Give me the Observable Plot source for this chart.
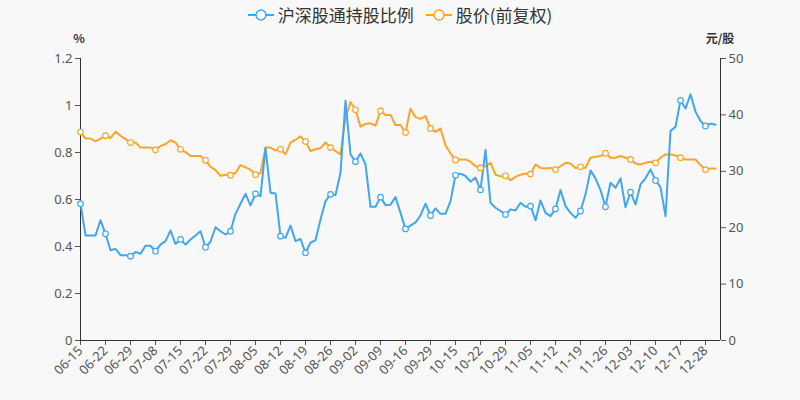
<!DOCTYPE html>
<html>
<head>
<meta charset="utf-8">
<script src="https://cdn.jsdelivr.net/npm/d3@7"></script>
<script src="https://cdn.jsdelivr.net/npm/@observablehq/plot@0.6"></script>
<style>
  html, body { margin: 0; padding: 0; background: #f8f8f8; }
  #wrap { position: relative; width: 800px; height: 400px; font-family: "Noto Sans CJK SC", "Noto Sans", sans-serif; }
  #legend { position: absolute; top: 2px; left: 0; width: 800px; display: flex; justify-content: center; align-items: center; gap: 12px; font-size: 17px; color: #333; }
  .item { display: flex; align-items: center; gap: 4px; }
  .atitle { position: absolute; top: 29px; font-size: 12px; color: #333; font-weight: bold; transform: translateX(-50%); }
</style>
</head>
<body>
<div id="wrap">
  <div id="chart"></div>
  <div id="legend"></div>
  <div class="atitle" id="tl" style="left:79px">%</div>
  <div class="atitle" id="tr" style="left:720px">元/股</div>
</div>
<script>
const seriesNames = ["沪深股通持股比例", "股价(前复权)"];
const seriesColors = ["#40a6f2", "#faa42a"];
const tickLabels = ["06-15","06-22","06-29","07-08","07-15","07-22","07-29","08-05","08-12","08-19","08-26","09-02","09-09","09-16","09-29","10-15","10-22","10-29","11-05","11-12","11-19","11-26","12-03","12-10","12-17","12-28"];
const holdRatio = [
  0.582,0.447,0.447,0.447,0.512,0.454,0.384,0.390,0.363,0.363,0.359,0.377,0.369,0.403,0.403,0.380,0.408,0.423,0.468,0.411,0.430,
  0.408,0.430,0.447,0.465,0.397,0.420,0.482,0.465,0.451,0.465,0.539,0.582,0.624,0.575,0.624,0.614,0.820,0.629,0.626,0.444,0.437,
  0.489,0.423,0.432,0.373,0.416,0.427,0.515,0.593,0.622,0.619,0.714,1.020,0.792,0.761,0.796,0.749,0.569,0.569,0.610,0.576,0.578,
  0.610,0.543,0.475,0.489,0.503,0.532,0.582,0.532,0.562,0.539,0.539,0.593,0.703,0.710,0.700,0.676,0.693,0.641,0.811,0.586,0.565,
  0.551,0.536,0.558,0.553,0.586,0.569,0.572,0.512,0.596,0.543,0.529,0.560,0.640,0.572,0.543,0.522,0.551,0.622,0.724,0.690,0.640,
  0.569,0.671,0.650,0.690,0.567,0.631,0.579,0.664,0.690,0.728,0.681,0.653,0.529,0.892,0.909,1.022,0.987,1.048,0.974,0.934,0.913,0.923,0.918
];
const price = [
  36.96,35.8,35.8,35.3,35.8,36.3,35.9,37.0,36.3,35.7,35.1,35.1,34.2,34.2,34.2,33.8,34.5,34.8,35.5,35.1,33.9,
  33.4,32.7,32.7,32.7,31.95,30.8,30.2,29.2,29.4,29.3,29.7,31.1,30.7,30.3,29.4,29.7,34.2,34.2,33.7,33.9,33.0,
  35.1,35.6,36.2,35.3,33.6,33.9,34.1,35.1,34.2,33.6,33.0,39.4,42.3,40.9,37.9,38.4,38.5,38.1,40.7,40.0,40.0,
  38.2,38.2,36.9,41.1,39.6,39.3,39.8,37.6,37.0,37.6,34.6,33.2,32.0,32.1,32.1,31.7,30.9,30.6,30.9,31.5,29.4,
  29.1,29.2,28.4,29.0,29.4,29.6,29.5,31.2,30.6,30.5,30.6,30.3,30.9,31.5,31.4,30.6,30.8,30.6,32.4,32.6,32.7,
  33.2,32.4,32.4,32.7,32.4,32.1,31.4,31.2,31.5,31.7,31.5,32.4,33.0,33.0,32.8,32.4,32.1,32.1,32.1,31.1,30.3,30.5,30.5
];
const leftTicks = [0, 0.2, 0.4, 0.6, 0.8, 1.0, 1.2];
const rightTicks = [0, 10, 20, 30, 40, 50];

const yMax = 1.2, rMax = 50, k = yMax / rMax;
const nSlots = 128;
const A = holdRatio.map((v, i) => ({i, v}));
const B = price.map((v, i) => ({i, v: v * k}));
const mk = d => d.i % 5 === 0;

const fmtL = d => d === 0 ? "0" : (Math.abs(d - 1) < 1e-9 ? "1" : d.toFixed(1));

const chart = Plot.plot({
  width: 800, height: 400,
  marginLeft: 80, marginRight: 80, marginTop: 58, marginBottom: 60,
  style: {background: "#f8f8f8", fontFamily: "'Noto Sans', 'Noto Sans CJK SC', sans-serif"},
  x: {domain: [0, nSlots], axis: null},
  y: {domain: [0, yMax], axis: null},
  marks: [
    Plot.axisY({anchor: "left", ticks: leftTicks, tickFormat: fmtL, tickSize: 5, tickPadding: 3, fontSize: 13, color: "#555", label: null}),
    Plot.axisY({anchor: "right", ticks: rightTicks.map(v => v * k), tickFormat: v => String(Math.round(v / k)), tickSize: 5, tickPadding: 3, fontSize: 13, color: "#555", label: null}),
    Plot.axisX({anchor: "bottom", ticks: tickLabels.map((_, j) => j * 5), tickFormat: v => tickLabels[Math.round(v / 5)], tickRotate: -45, tickSize: 5, tickPadding: 3, fontSize: 13, color: "#555", label: null}),
    Plot.ruleY([0], {stroke: "#333"}),
    Plot.ruleX([0, nSlots], {stroke: "#333"}),
    Plot.line(B, {x: "i", y: "v", stroke: seriesColors[1], strokeWidth: 2}),
    Plot.line(A, {x: "i", y: "v", stroke: seriesColors[0], strokeWidth: 2}),
    Plot.dot(B.filter(mk), {x: "i", y: "v", r: 2.8, fill: "white", stroke: seriesColors[1], strokeWidth: 1.2}),
    Plot.dot(A.filter(mk), {x: "i", y: "v", r: 2.8, fill: "white", stroke: seriesColors[0], strokeWidth: 1.2})
  ]
});
document.getElementById("chart").appendChild(chart);

const legend = document.getElementById("legend");
seriesNames.forEach((name, j) => {
  const c = seriesColors[j];
  const item = document.createElement("div");
  item.className = "item";
  item.innerHTML = `<svg width="26" height="16"><line x1="0" y1="8" x2="26" y2="8" stroke="${c}" stroke-width="2"/><circle cx="13" cy="8" r="5" fill="white" stroke="${c}" stroke-width="1.5"/></svg><span>${name}</span>`;
  legend.appendChild(item);
});
</script>
</body>
</html>
